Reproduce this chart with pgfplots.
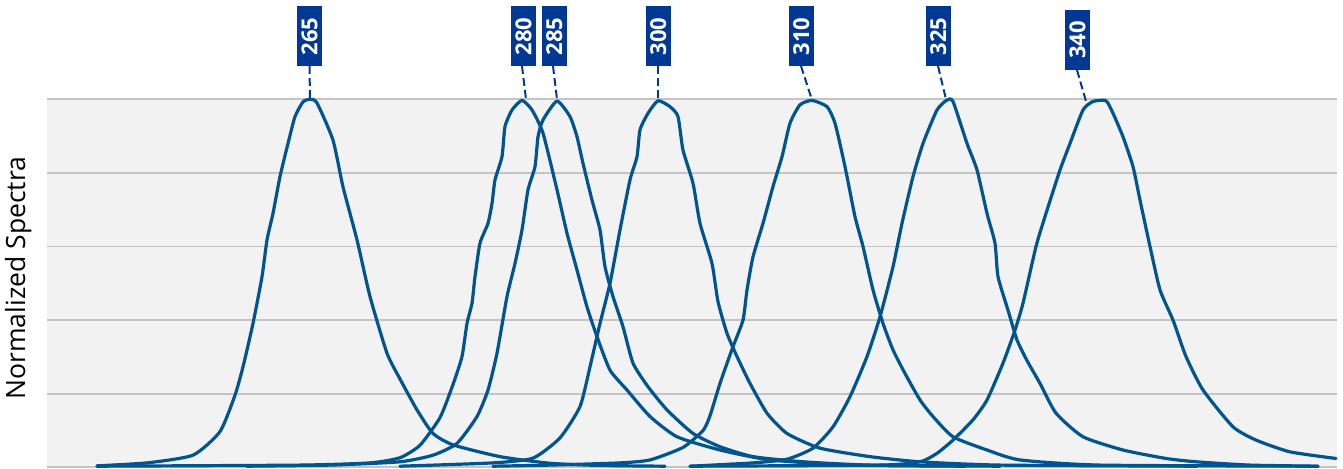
\documentclass[border=0pt]{standalone}
\usepackage{fontspec}
\setmainfont{Open Sans}
\usepackage{pgfplots}
\pgfplotsset{compat=1.18}

\definecolor{curve}{HTML}{00558F}
\definecolor{tagblue}{HTML}{003893}
\definecolor{bggray}{HTML}{F2F2F2}
\definecolor{gridgray}{HTML}{C4C4C4}

\begin{document}
\begin{tikzpicture}[
    spec/.style={curve, mark=none, solid, smooth, tension=0.35, line width=3.2bp,
        line join=round, line cap=round},
    tag/.style={fill=tagblue, text=white, rotate=90, inner sep=0pt,
        minimum width=60bp, minimum height=25bp,
        font=\fontsize{22bp}{26bp}\selectfont\bfseries},
    lead/.style={tagblue, line width=2bp, dash pattern=on 8bp off 4bp},
]
\begin{axis}[
    width=1290bp, height=368bp,
    scale only axis,
    xmin=239.7, xmax=368.7,
    ymin=0, ymax=1,
    clip=false,
    axis background/.style={fill=bggray},
    axis line style={draw=none},
    xtick=\empty,
    ytick={0,0.2,0.4,0.6,0.8,1},
    yticklabels={},
    major tick length=0pt,
    ymajorgrids,
    grid style={gridgray, line width=1.8bp},
    ylabel={Normalized Spectra},
    ylabel style={at={(rel axis cs:-0.0118,0.514)}, anchor=south, inner sep=0pt,
        font=\fontsize{26.5bp}{30bp}\selectfont},
]
\coordinate (sw) at (rel axis cs:0,0);
\coordinate (ne) at (rel axis cs:1,1);

% 265
\addplot[spec] coordinates {(244.7,0.004) (249.7,0.012) (254.3,0.033) (257.0,0.097) (258.5,0.196)
 (259.3,0.273) (260.3,0.391) (261.2,0.518) (261.7,0.618) (262.3,0.690) (263.0,0.790)
 (263.8,0.880) (264.5,0.953) (265.3,0.993) (266.0,1.000) (266.7,0.990) (268.3,0.889)
 (269.3,0.762) (270.7,0.618) (272.0,0.464) (273.7,0.310) (275.0,0.240) (276.7,0.156)
 (278.3,0.092) (280.3,0.061) (285.0,0.029) (290.0,0.011) (295.0,0.005) (301.5,0.003)};
% 280
\addplot[spec] coordinates {(244.7,0.003) (265.0,0.006) (272.0,0.012) (275.0,0.026) (277.0,0.060)
 (279.0,0.135) (280.3,0.225) (281.2,0.301) (281.7,0.391) (282.2,0.446) (282.5,0.518)
 (283.0,0.609) (283.8,0.663) (284.2,0.717) (284.5,0.781) (285.2,0.844) (285.5,0.926)
 (286.2,0.971) (287.2,0.997) (288.2,0.971) (289.3,0.908) (290.7,0.754) (291.7,0.636)
 (292.7,0.536) (293.7,0.436) (294.7,0.355) (296.0,0.264) (297.7,0.210) (300.0,0.138)
 (302.7,0.083) (307.0,0.047) (312.0,0.020) (320.0,0.006) (331.5,0.003)};
% 285
\addplot[spec] coordinates {(259.7,0.003) (268.0,0.006) (275.0,0.015) (278.3,0.033) (280.7,0.065)
 (282.7,0.138) (283.8,0.210) (284.7,0.310) (285.7,0.464) (286.5,0.554) (287.2,0.645)
 (287.8,0.754) (288.5,0.817) (288.8,0.898) (289.3,0.944) (290.7,0.995) (292.0,0.953)
 (292.7,0.898) (293.3,0.826) (294.2,0.726) (295.0,0.645) (295.5,0.545) (296.3,0.464)
 (297.3,0.382) (298.3,0.283) (299.8,0.219) (301.7,0.156) (304.3,0.092) (307.0,0.056)
 (310.3,0.029) (315.3,0.015) (322.0,0.006) (335.0,0.003)};
% 300
\addplot[spec] coordinates {(275.0,0.003) (284.3,0.012) (288.3,0.025) (291.0,0.080) (293.0,0.165)
 (294.0,0.273) (295.0,0.391) (296.0,0.500) (297.0,0.645) (298.0,0.781) (298.7,0.844)
 (299.0,0.917) (299.8,0.962) (300.8,0.996) (302.0,0.980) (302.8,0.953) (303.3,0.862)
 (304.3,0.772) (305.0,0.663) (306.2,0.554) (306.8,0.450) (307.7,0.364) (308.7,0.301)
 (310.0,0.228) (311.7,0.147) (313.7,0.092) (317.0,0.052) (322.0,0.029) (327.0,0.015)
 (335.0,0.006) (354.7,0.003)};
% 310
\addplot[spec] coordinates {(284.3,0.003) (290.0,0.006) (297.0,0.012) (300.0,0.020) (303.3,0.054)
 (305.3,0.100) (306.0,0.140) (307.0,0.228) (308.3,0.328) (309.3,0.400) (309.7,0.482)
 (310.3,0.572) (311.3,0.663) (312.3,0.763) (313.2,0.844) (314.0,0.935) (315.0,0.985)
 (316.2,0.997) (317.7,0.980) (318.5,0.935) (319.5,0.817) (320.5,0.681) (321.3,0.600)
 (322.3,0.482) (323.3,0.391) (324.3,0.319) (325.5,0.255) (327.0,0.183) (328.3,0.138)
 (330.3,0.083) (333.7,0.047) (337.0,0.020) (345.0,0.006) (366.8,0.003)};
% 325
\addplot[spec] coordinates {(304.0,0.003) (310.3,0.012) (313.7,0.022) (316.3,0.052) (318.3,0.110)
 (320.0,0.192) (321.7,0.301) (323.0,0.409) (324.3,0.545) (325.2,0.663) (326.3,0.790)
 (327.3,0.880) (328.7,0.971) (329.7,0.998) (330.3,0.994) (331.7,0.880) (332.7,0.808)
 (333.7,0.690) (334.5,0.609) (334.8,0.518) (335.8,0.427) (336.7,0.346) (337.7,0.290)
 (339.0,0.228) (340.6,0.147) (343.3,0.083) (347.3,0.047) (351.6,0.024) (354.6,0.015)
 (360.0,0.006) (366.8,0.003)};
% 340
\addplot[spec] coordinates {(304.0,0.003) (323.0,0.006) (327.0,0.015) (328.7,0.038) (330.3,0.074)
 (332.3,0.129) (333.7,0.183) (335.3,0.283) (336.5,0.373) (337.3,0.446) (338.6,0.600)
 (339.6,0.690) (341.0,0.808) (342.0,0.880) (343.3,0.971) (344.3,0.994) (345.6,0.996)
 (346.3,0.962) (347.3,0.898) (348.3,0.817) (349.0,0.726) (350.0,0.600) (351.0,0.482)
 (352.3,0.400) (353.6,0.301) (355.3,0.210) (358.3,0.110) (360.6,0.074) (364.0,0.042)
 (368.6,0.024)};

% peak tags
\draw[lead] (axis cs:265.95,1.0905) -- (axis cs:266.0,1.0);
\draw[lead] (axis cs:287.2,1.0905) -- (axis cs:287.6,1.0);
\draw[lead] (axis cs:290.3,1.0905) -- (axis cs:290.7,1.0);
\draw[lead] (axis cs:300.8,1.0905) -- (axis cs:300.8,1.0);
\draw[lead] (axis cs:315.1,1.0905) -- (axis cs:316.2,0.998);
\draw[lead] (axis cs:328.8,1.0905) -- (axis cs:329.6,1.0);
\draw[lead] (axis cs:342.7,1.0796) -- (axis cs:343.7,0.985);
\node[tag] at (axis cs:265.95,1.171) {265};
\node[tag] at (axis cs:287.35,1.171) {280};
\node[tag] at (axis cs:290.43,1.171) {285};
\node[tag] at (axis cs:300.83,1.171) {300};
\node[tag] at (axis cs:315.13,1.171) {310};
\node[tag] at (axis cs:328.83,1.171) {325};
\node[tag] at (axis cs:342.75,1.161) {340};
\end{axis}
\pgfresetboundingbox
\path[use as bounding box] ([shift={(-47bp,-0.7bp)}]sw) rectangle ([shift={(6bp,99.3bp)}]ne);
\end{tikzpicture}
\end{document}
